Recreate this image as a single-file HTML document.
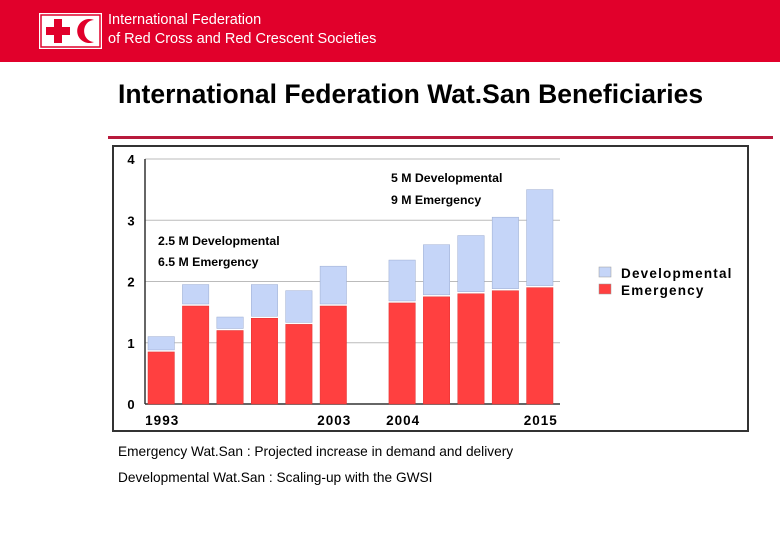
<!DOCTYPE html>
<html><head><meta charset="utf-8"><style>
body{margin:0;width:780px;height:540px;background:#fff;position:relative;overflow:hidden;font-family:"Liberation Sans",sans-serif}
</style></head><body>
<div style="position:absolute;left:0;top:0;width:780px;height:62px;background:#e1002b"></div>
<svg style="position:absolute;left:38px;top:12px" width="65" height="38">
<rect x="1" y="1" width="63" height="36" fill="#fff"/><rect x="3" y="3" width="59" height="32" fill="none" stroke="#e1002b" stroke-width="1.5"/>
<rect x="8" y="15" width="24" height="8" fill="#e1002b"/><rect x="16" y="7" width="8" height="24" fill="#e1002b"/>
<path d="M56 8 A12 12 0 1 0 56 30 A9 10 0 1 1 56 8Z" fill="#e1002b"/></svg>
<div style="position:absolute;left:108px;top:11px;color:#fff;font-size:14.5px;line-height:19px">International Federation<br>of Red Cross and Red Crescent Societies</div>
<div style="position:absolute;left:118px;top:79px;font-size:26.5px;font-weight:bold;color:#000">International Federation Wat.San Beneficiaries</div>
<div style="position:absolute;left:108px;top:136px;width:665px;height:3px;background:#b81a3c"></div>
<svg id="chart" style="position:absolute;left:0;top:0" width="780" height="540"></svg>
<div style="position:absolute;left:118px;top:444px;font-size:13.7px;color:#000">Emergency Wat.San : Projected increase in demand and delivery</div>
<div style="position:absolute;left:118px;top:470px;font-size:13.7px;color:#000">Developmental Wat.San : Scaling-up with the GWSI</div>
<script>
const slots=['1993','','','','','2003','','2004','','','','2015'];
const emergency=[0.85,1.6,1.2,1.4,1.3,1.6,null,1.65,1.75,1.8,1.85,1.9];
const developmental=[0.25,0.35,0.22,0.55,0.55,0.65,null,0.7,0.85,0.95,1.2,1.6];
const yTicks=[0,1,2,3,4];
const NS='http://www.w3.org/2000/svg';
const svg=document.getElementById('chart');
function el(t,a,p){const e=document.createElementNS(NS,t);for(const k in a)e.setAttribute(k,a[k]);(p||svg).appendChild(e);return e;}
const x0=145,x1=558,y0=404,y1=159;
const bw=(x1-x0)/slots.length;
const y=v=>y0-(v/4)*(y0-y1);
const xs=i=>x0+i*bw;
const frame=el('rect',{x:113,y:146,width:635,height:285,fill:'#fff',stroke:'#333','stroke-width':2});

yTicks.forEach(t=>{
 const g=el('line',{x1:x0,x2:x1+2,y1:y(t),y2:y(t),stroke:t===0?'#333':'#bbb','stroke-width':t===0?1.5:1});
 
 const l=el('text',{x:131,y:y(t)+5,'text-anchor':'middle','font-size':13,'font-weight':'bold',fill:'#000'});
 l.textContent=t;
});
const ax=el('line',{x1:x0,x2:x0,y1:y1,y2:y0,stroke:'#333','stroke-width':1.5});

emergency.forEach((e,i)=>{
 if(e===null)return;
 const bx=xs(i)+3,w=bw-8;
 const r=el('rect',{x:bx,y:y(e),width:w,height:y0-y(e),fill:'#ff4040',stroke:'#e03030','stroke-width':0.5});
 
 const top=e+developmental[i];
 const b=el('rect',{x:bx,y:y(top),width:w,height:y(e)-y(top)-2,fill:'#c5d5f8',stroke:'#9aaad0','stroke-width':0.5});
 
});
slots.forEach((s,i)=>{
 if(!s)return;
 const t=el('text',{x:xs(i)+bw/2,y:425,'text-anchor':'middle','font-size':13.5,'font-weight':'bold',fill:'#000','letter-spacing':'1'});
 t.textContent=s;
});
[['5 M Developmental',391,182],['9 M Emergency',391,204],['2.5 M Developmental',158,245],['6.5 M Emergency',158,266]].forEach((a,k)=>{
 const t=el('text',{x:a[1],y:a[2],'font-size':12.3,fill:'#000','font-weight':'600'});t.textContent=a[0];
 
});
[['Developmental','#c5d5f8',275],['Emergency','#ff4040',292]].forEach(a=>{
 const r=el('rect',{x:599,y:a[2]-8,width:12,height:10,fill:a[1],stroke:'#999','stroke-width':0.5});
 
 const t=el('text',{x:621,y:a[2]+3,'font-size':13.5,'font-weight':'bold',fill:'#000','letter-spacing':'1.2'});t.textContent=a[0];
 
});
</script>
</body></html>
